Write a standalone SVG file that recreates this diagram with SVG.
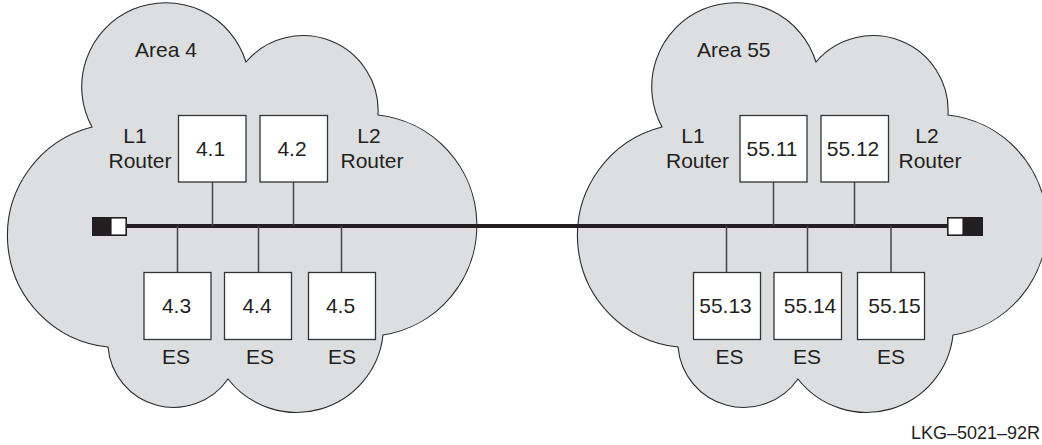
<svg xmlns="http://www.w3.org/2000/svg" width="1042" height="445" viewBox="0 0 1042 445">
<style>
.cloud{fill:#dddee0;stroke:#2a2a2a;stroke-width:1.1}
.box{fill:#ffffff;stroke:#333333;stroke-width:1.3}
.t{font-family:"Liberation Sans",Arial,sans-serif;font-size:21px;fill:#231f20;text-anchor:middle}
.ts{font-family:"Liberation Sans",Arial,sans-serif;font-size:21px;fill:#231f20}
.drop{stroke:#444444;stroke-width:1.5;fill:none}
.bus{stroke:#231f20;stroke-width:4;fill:none}
</style>
<defs>
<path id="cloudShape" d="M92,127 A84,84 0 1 1 246,62 A75,75 0 0 1 378,115 A111,111 0 0 1 383,335 A87,87 0 0 1 228,379 A66,66 0 0 1 108,347 A112,112 0 0 1 92,127 Z"/>
</defs>
<g id="area4">
<use href="#cloudShape" class="cloud"/>
<text class="ts" x="135" y="57">Area 4</text>
</g>
<g id="area55">
<use href="#cloudShape" class="cloud" transform="translate(570,0)"/>
<text class="ts" x="697" y="57">Area 55</text>
</g>
<g id="connectors">
<line class="bus" x1="126" y1="226" x2="948" y2="226"/>
<line class="drop" x1="212.5" y1="182" x2="212.5" y2="226"/>
<line class="drop" x1="293.5" y1="182" x2="293.5" y2="226"/>
<line class="drop" x1="177.5" y1="226" x2="177.5" y2="272"/>
<line class="drop" x1="258.5" y1="226" x2="258.5" y2="272"/>
<line class="drop" x1="341.5" y1="226" x2="341.5" y2="272"/>
<line class="drop" x1="773.5" y1="182" x2="773.5" y2="226"/>
<line class="drop" x1="854.5" y1="182" x2="854.5" y2="226"/>
<line class="drop" x1="726.5" y1="226" x2="726.5" y2="272"/>
<line class="drop" x1="807.5" y1="226" x2="807.5" y2="272"/>
<line class="drop" x1="891" y1="226" x2="891" y2="272"/>
</g>
<g id="term-left">
<rect x="92" y="217" width="18" height="19" fill="#231f20"/>
<rect x="110.8" y="217.8" width="15.4" height="17.4" fill="#ffffff" stroke="#231f20" stroke-width="1.6"/>
</g>
<g id="term-right">
<rect x="964" y="217" width="19" height="19" fill="#231f20"/>
<rect x="947.8" y="217.8" width="15.4" height="17.4" fill="#ffffff" stroke="#231f20" stroke-width="1.6"/>
</g>
<g id="node-4-1">
<rect class="box" x="178.5" y="115.5" width="67.5" height="66.5"/>
<text class="t" x="210.5" y="156">4.1</text>
<text class="t" x="135" y="143">L1</text>
<text class="t" x="140" y="168">Router</text>
</g>
<g id="node-4-2">
<rect class="box" x="260" y="115.5" width="67.5" height="66.5"/>
<text class="t" x="292" y="156">4.2</text>
<text class="t" x="369" y="143">L2</text>
<text class="t" x="372" y="168">Router</text>
</g>
<g id="node-4-3">
<rect class="box" x="144" y="272.5" width="67" height="67"/>
<text class="t" x="176.5" y="313">4.3</text>
<text class="t" x="176" y="364">ES</text>
</g>
<g id="node-4-4">
<rect class="box" x="224.5" y="272.5" width="67" height="67"/>
<text class="t" x="257" y="313">4.4</text>
<text class="t" x="260" y="364">ES</text>
</g>
<g id="node-4-5">
<rect class="box" x="308.5" y="272.5" width="67" height="67"/>
<text class="t" x="340.5" y="313">4.5</text>
<text class="t" x="342" y="364">ES</text>
</g>
<g id="node-55-11">
<rect class="box" x="740" y="115.5" width="67" height="66.5"/>
<text class="t" x="772" y="156">55.11</text>
<text class="t" x="693" y="143">L1</text>
<text class="t" x="697.5" y="168">Router</text>
</g>
<g id="node-55-12">
<rect class="box" x="821" y="115.5" width="67.5" height="66.5"/>
<text class="t" x="853" y="156">55.12</text>
<text class="t" x="927" y="143">L2</text>
<text class="t" x="930" y="168">Router</text>
</g>
<g id="node-55-13">
<rect class="box" x="693.5" y="272.5" width="67" height="67"/>
<text class="t" x="725.5" y="313">55.13</text>
<text class="t" x="729.5" y="364">ES</text>
</g>
<g id="node-55-14">
<rect class="box" x="774" y="272.5" width="67.5" height="67"/>
<text class="t" x="810" y="313">55.14</text>
<text class="t" x="807" y="364">ES</text>
</g>
<g id="node-55-15">
<rect class="box" x="857.5" y="272.5" width="67" height="67"/>
<text class="t" x="894.5" y="313">55.15</text>
<text class="t" x="891" y="364">ES</text>
</g>
<text x="1040" y="439" style="font-family:'Liberation Sans',Arial,sans-serif;font-size:18px;fill:#231f20;text-anchor:end">LKG–5021–92R</text>
</svg>
